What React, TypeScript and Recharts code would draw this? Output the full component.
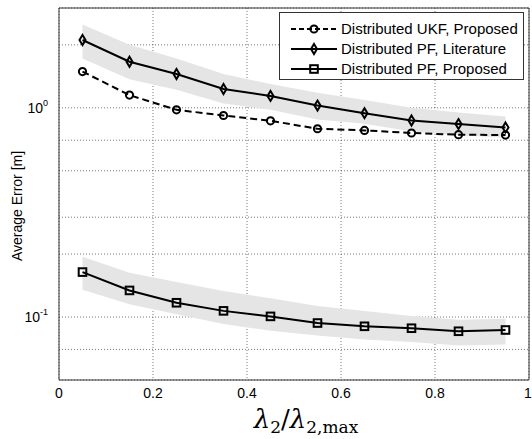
import React from 'react';
import {ComposedChart, Line, Area, XAxis, YAxis, CartesianGrid, ReferenceArea, Legend} from 'recharts';

const ratios = [0.05, 0.15, 0.25, 0.35, 0.45, 0.55, 0.65, 0.75, 0.85, 0.95];
const ukfProposed = [1.49, 1.15, 0.978, 0.919, 0.867, 0.794, 0.78, 0.758, 0.744, 0.741];
const pfLiterature = [2.11, 1.66, 1.45, 1.23, 1.14, 1.025, 0.943, 0.87, 0.836, 0.806];
const pfLiteratureLow = [1.72, 1.37, 1.22, 1.05, 0.98, 0.88, 0.84, 0.77, 0.74, 0.72];
const pfLiteratureHigh = [2.5, 2.0, 1.72, 1.45, 1.3, 1.18, 1.09, 1.0, 0.95, 0.91];
const pfProposed = [0.164, 0.134, 0.117, 0.107, 0.1007, 0.0936, 0.0903, 0.0884, 0.0855, 0.0867];
const pfProposedLow = [0.135, 0.115, 0.103, 0.0926, 0.086, 0.0815, 0.078, 0.076, 0.073, 0.074];
const pfProposedHigh = [0.194, 0.163, 0.147, 0.133, 0.123, 0.113, 0.107, 0.101, 0.097, 0.098];

const xTicks = [0, 0.2, 0.4, 0.6, 0.8, 1];
const yTicks = [0.06, 0.07, 0.08, 0.09, 0.1, 0.2, 0.3, 0.4, 0.5, 0.6, 0.7, 0.8, 0.9, 1, 2];
const yLabels: Record<number, string> = {0.1: '-1', 1: '0'};

const data = ratios.map((x, i) => ({
    x,
    ukf: ukfProposed[i],
    lit: pfLiterature[i],
    litBand: [pfLiteratureLow[i], pfLiteratureHigh[i]],
    prop: pfProposed[i],
    propBand: [pfProposedLow[i], pfProposedHigh[i]],
}));

const font = '"Liberation Sans", Arial, sans-serif';

const CircleMark = ({cx, cy}: any) => (
    <circle cx={cx} cy={cy} r={3.6} fill="none" stroke="#000" strokeWidth={2}/>
);
const DiamondMark = ({cx, cy}: any) => (
    <polygon points={`${cx},${cy - 5} ${cx + 3},${cy} ${cx},${cy + 5} ${cx - 3},${cy}`}
             fill="none" stroke="#000" strokeWidth={2}/>
);
const SquareMark = ({cx, cy}: any) => (
    <rect x={cx - 3.8} y={cy - 3.8} width={7.6} height={7.6} fill="none" stroke="#000" strokeWidth={2}/>
);

const YTick = ({x, y, payload}: any) => {
    const exp = yLabels[payload.value];
    if (!exp) return null;
    return (
        <text x={x - 3} y={y + 5} textAnchor="end" fontFamily={font} fontSize={14} fill="#000">
            10<tspan dy={-7} fontSize={9}>{exp}</tspan>
        </text>
    );
};

const XTick = ({x, y, payload}: any) => (
    <text x={x} y={y + 10} textAnchor="middle" fontFamily={font} fontSize={14} fill="#000">
        {payload.value}
    </text>
);

const legendRows = [
    {name: 'Distributed UKF, Proposed', dash: '5 3', Mark: CircleMark},
    {name: 'Distributed PF, Literature', dash: undefined, Mark: DiamondMark},
    {name: 'Distributed PF, Proposed', dash: undefined, Mark: SquareMark},
];

const LegendBox = () => (
    <svg width={245} height={68}>
        <rect x={0.5} y={0.5} width={244} height={67} fill="#fff" stroke="#333"/>
        {legendRows.map((r, i) => {
            const cy = 17 + i * 20;
            return (
                <g key={r.name}>
                    <line x1={12} x2={58} y1={cy} y2={cy} stroke="#000" strokeWidth={2} strokeDasharray={r.dash}/>
                    <r.Mark cx={35} cy={cy}/>
                    <text x={62} y={cy + 5} fontFamily={font} fontSize={15} fill="#000">{r.name}</text>
                </g>
            );
        })}
    </svg>
);

const XLabel = () => (
    <text x={306} y={428} textAnchor="middle" fontFamily='"DejaVu Serif", "Liberation Serif", serif' fontSize={26} fill="#000">
        <tspan fontStyle="italic">λ</tspan>
        <tspan dy={5} fontSize={17}>2</tspan>
        <tspan dy={-5}>/</tspan>
        <tspan fontStyle="italic">λ</tspan>
        <tspan dy={5} fontSize={17}>2,max</tspan>
    </text>
);

const YLabel = () => (
    <text x={22} y={206} transform="rotate(-90 22 206)" textAnchor="middle" fontFamily={font} fontSize={14} fill="#000">
        Average Error [m]
    </text>
);

export default function App() {
    return (
        <div style={{position: 'absolute', left: 0, top: 0, width: 532, height: 439, background: '#fff'}}>
            <ComposedChart width={532} height={439} data={data} margin={{top: 8, right: 3, left: 0, bottom: 0}}>
                <CartesianGrid stroke="#555" strokeDasharray="1 2" strokeWidth={0.8}/>
                <XAxis type="number" dataKey="x" domain={[0, 1]} ticks={xTicks} height={59}
                       axisLine={false} tickLine={false} tick={<XTick/>} label={<XLabel/>}/>
                <YAxis type="number" scale="log" domain={[0.05, 3]} ticks={yTicks} width={59}
                       allowDataOverflow axisLine={false} tickLine={false} tick={<YTick/>} label={<YLabel/>}/>
                <Area dataKey="litBand" type="linear" fill="#e5e5e5" fillOpacity={1} stroke="none"
                      isAnimationActive={false} legendType="none"/>
                <Area dataKey="propBand" type="linear" fill="#e5e5e5" fillOpacity={1} stroke="none"
                      isAnimationActive={false} legendType="none"/>
                <Line dataKey="ukf" type="linear" stroke="#000" strokeWidth={2} strokeDasharray="7 4"
                      dot={(p: any) => <CircleMark key={p.key} cx={p.cx} cy={p.cy}/>} isAnimationActive={false}/>
                <Line dataKey="lit" type="linear" stroke="#000" strokeWidth={2}
                      dot={(p: any) => <DiamondMark key={p.key} cx={p.cx} cy={p.cy}/>} isAnimationActive={false}/>
                <Line dataKey="prop" type="linear" stroke="#000" strokeWidth={2}
                      dot={(p: any) => <SquareMark key={p.key} cx={p.cx} cy={p.cy}/>} isAnimationActive={false}/>
                <ReferenceArea x1={0} x2={1} y1={0.05} y2={3} fill="none" stroke="#333" strokeWidth={1}
                               ifOverflow="extendDomain"/>
                <Legend layout="horizontal" verticalAlign="middle" align="center" content={<LegendBox/>}
                        wrapperStyle={{position: 'absolute', left: 279, top: 12, width: 245, height: 68}}/>
            </ComposedChart>
        </div>
    );
}
